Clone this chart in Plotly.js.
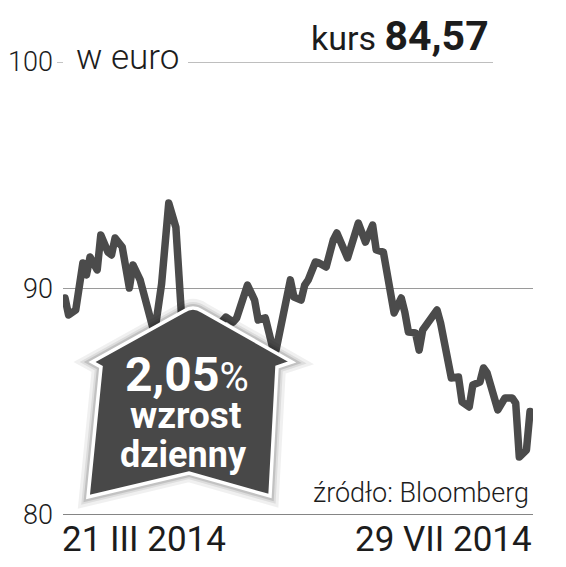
<!DOCTYPE html>
<html>
<head>
<meta charset="utf-8">
<script src="https://cdn.plot.ly/plotly-3.0.1.min.js"></script>
<style>
html,body{margin:0;padding:0;background:#fff;}
.scatterlayer .js-line{stroke-linejoin:round;stroke-linecap:round;}
</style>
</head>
<body>
<div id="chart" style="width:566px;height:567px;"></div>
<script>
// ---- data ----
const dates = ['2014-03-21','2014-03-22','2014-03-24','2014-03-26','2014-03-27','2014-03-28','2014-03-30','2014-03-31',
  '2014-04-02','2014-04-03','2014-04-04','2014-04-06','2014-04-08','2014-04-09','2014-04-11','2014-04-14','2014-04-15',
  '2014-04-17','2014-04-18','2014-04-19','2014-04-21','2014-04-22','2014-04-23','2014-04-25','2014-04-27','2014-04-29',
  '2014-05-01','2014-05-03','2014-05-05','2014-05-07','2014-05-08','2014-05-11','2014-05-13','2014-05-14','2014-05-16',
  '2014-05-18','2014-05-19','2014-05-23','2014-05-24','2014-05-26','2014-05-27','2014-05-28','2014-05-30','2014-05-31',
  '2014-06-02','2014-06-04','2014-06-05','2014-06-08','2014-06-11','2014-06-13','2014-06-15','2014-06-16','2014-06-18',
  '2014-06-21','2014-06-23','2014-06-24','2014-06-25','2014-06-27','2014-06-28','2014-06-29','2014-07-03','2014-07-04',
  '2014-07-07','2014-07-09','2014-07-10','2014-07-12','2014-07-13','2014-07-15','2014-07-16','2014-07-17','2014-07-20',
  '2014-07-22','2014-07-24','2014-07-25','2014-07-26','2014-07-28','2014-07-29'];
const prices = [89.58,88.83,89.05,91.13,90.60,91.39,90.82,92.36,
  91.61,91.48,92.23,91.83,90.02,91.04,90.38,88.48,88.00,
  90.20,92.10,93.77,92.70,90.60,87.73,87.06,87.50,87.06,
  87.95,88.39,88.74,88.52,88.70,90.15,89.49,88.61,88.70,
  87.42,87.28,90.38,89.62,89.49,90.15,90.38,91.17,91.13,
  90.95,92.14,92.45,91.35,92.89,92.05,92.80,91.70,91.61,
  88.92,89.58,88.96,88.08,88.04,87.28,88.17,89.05,88.48,
  86.05,86.09,84.99,84.77,85.74,85.87,86.49,86.27,84.64,
  85.17,85.17,84.94,82.56,82.87,84.57];
const yTicks = [80, 90, 100];
const yTickLabels = ['80', '90', '100'];
const unitLabel = 'w euro';
const priceLabel = 'kurs';
const changeWords = ['wzrost', 'dzienny'];
const sourceLabel = 'źródło: Bloomberg';
const xEndLabels = ['21 III 2014', '29 VII 2014'];

// ---- derived texts ----
const last = prices[prices.length - 1];
const prev = prices[prices.length - 2];
const fmt = v => v.toFixed(2).replace('.', ',');
const kursText = fmt(last);
const changeText = fmt((last / prev - 1) * 100);

// ---- geometry helpers (pixel -> paper) ----
const W = 566, H = 567, ML = 63, MR = 33, MT = 62, MB = 52;
const PW = W - ML - MR, PH = H - MT - MB;
const px = X => (X - ML) / PW;
const py = Y => (H - MB - Y) / PH;

function pathFrom(pts) {
  return pts.map((p, i) => {
    if (p[0] === 'Q') return 'Q ' + px(p[1]) + ',' + py(p[2]) + ' ' + px(p[3]) + ',' + py(p[4]);
    return (i === 0 ? 'M ' : 'L ') + px(p[0]) + ',' + py(p[1]);
  }).join(' ') + ' Z';
}
const housePts = [[92,362],[184,311],['Q',193,305,202,311],[292,362],[277,367],[270,496],[189,473],[88,497],[101,367]];
const housePath = pathFrom(housePts);

const shapes = [
  {type:'line', xref:'paper', yref:'y', x0:px(188), x1:px(493), y0:yTicks[2], y1:yTicks[2], line:{color:'#a8a8a8', width:1.5}, layer:'below'},
  {type:'line', xref:'paper', yref:'y', x0:px(57), x1:px(63), y0:yTicks[2], y1:yTicks[2], line:{color:'#b0b0b0', width:1.5}, layer:'below'},
  {type:'line', xref:'paper', yref:'y', x0:0, x1:1, y0:yTicks[1], y1:yTicks[1], line:{color:'#9a9a9a', width:1.2}, layer:'below'},
  {type:'line', xref:'paper', yref:'y', x0:0, x1:1, y0:yTicks[0], y1:yTicks[0], line:{color:'#858585', width:2.2}, layer:'above'},
  {type:'path', xref:'paper', yref:'paper', path:housePath, fillcolor:'rgba(0,0,0,0)', line:{color:'rgba(0,0,0,0.06)', width:18}, layer:'above'},
  {type:'path', xref:'paper', yref:'paper', path:housePath, fillcolor:'rgba(0,0,0,0)', line:{color:'rgba(0,0,0,0.08)', width:12}, layer:'above'},
  {type:'path', xref:'paper', yref:'paper', path:housePath, fillcolor:'rgba(0,0,0,0)', line:{color:'rgba(0,0,0,0.12)', width:8}, layer:'above'},
  {type:'path', xref:'paper', yref:'paper', path:housePath, fillcolor:'#484848', line:{color:'#ffffff', width:3.5}, layer:'above'}
];

const textColor = '#1c1c1c';
const annotations = [
  {xref:'paper', yref:'paper', x:px(74), y:py(58), xanchor:'left', yanchor:'middle', showarrow:false,
   text:unitLabel, font:{family:'Roboto', size:35, color:textColor, weight:300}},
  {xref:'paper', yref:'paper', x:px(491), y:py(36), xanchor:'right', yanchor:'middle', showarrow:false,
   text:priceLabel + ' <b><span style="font-size:41px">' + kursText + '</span></b>',
   font:{family:'Roboto', size:34, color:textColor}},
  {xref:'paper', yref:'paper', x:px(187), y:py(374), xanchor:'center', yanchor:'middle', showarrow:false,
   text:'<b>' + changeText + '</b><span style="font-size:40px">%</span>', font:{family:'Roboto', size:48, color:'#ffffff'}},
  {xref:'paper', yref:'paper', x:px(185), y:py(415), xanchor:'center', yanchor:'middle', showarrow:false,
   text:'<b>' + changeWords[0] + '</b>', font:{family:'Roboto', size:37, color:'#ffffff'}},
  {xref:'paper', yref:'paper', x:px(183), y:py(455), xanchor:'center', yanchor:'middle', showarrow:false,
   text:'<b>' + changeWords[1] + '</b>', font:{family:'Roboto', size:36, color:'#ffffff'}},
  {xref:'paper', yref:'paper', x:px(531), y:py(493), xanchor:'right', yanchor:'middle', showarrow:false,
   text:sourceLabel, font:{family:'Roboto', size:27, color:textColor, weight:300}},
  {xref:'x', yref:'paper', x:dates[0], y:py(539), xanchor:'left', yanchor:'middle', showarrow:false, xshift:-5,
   text:xEndLabels[0], font:{family:'Roboto', size:35, color:textColor}},
  {xref:'x', yref:'paper', x:dates[dates.length-1], y:py(539), xanchor:'right', yanchor:'middle', showarrow:false, xshift:4,
   text:xEndLabels[1], font:{family:'Roboto', size:35, color:textColor}}
];

const trace = {
  x: dates, y: prices, type:'scatter', mode:'lines',
  line:{color:'#4b4b4b', width:7.5}, hoverinfo:'skip'
};

const layout = {
  width:W, height:H,
  margin:{l:ML, r:MR, t:MT, b:MB, pad:0},
  paper_bgcolor:'#ffffff', plot_bgcolor:'#ffffff',
  showlegend:false,
  xaxis:{type:'date', range:['2014-03-20 10:30','2014-07-29 20:00'], showgrid:false, zeroline:false,
         showticklabels:false, ticks:'', showline:false, fixedrange:true},
  yaxis:{range:[80,100], tickvals:yTicks, ticktext:yTickLabels, showgrid:false, zeroline:false, showline:false,
         ticks:'', ticklabelstandoff:9, tickfont:{family:'Roboto', size:27, color:textColor, weight:300}, fixedrange:true},
  shapes:shapes,
  annotations:annotations
};

Plotly.newPlot('chart', [trace], layout, {displayModeBar:false, staticPlot:true});
</script>
</body>
</html>
